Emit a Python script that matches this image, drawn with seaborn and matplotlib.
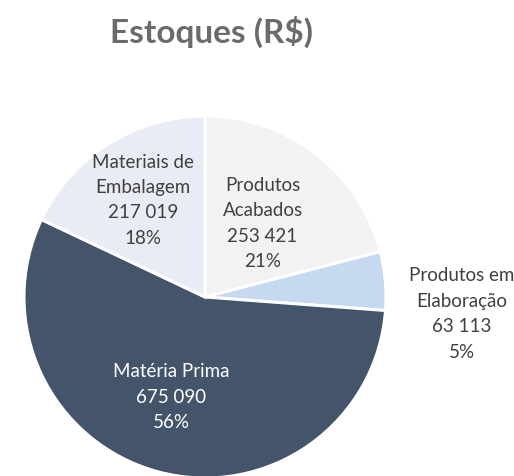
import numpy as np
import matplotlib
matplotlib.use("Agg")
import matplotlib.pyplot as plt
import seaborn as sns

# Data
categorias = ["Produtos\nAcabados", "Produtos em\nElaboração", "Matéria Prima", "Materiais de\nEmbalagem"]
valores = [253421, 63113, 675090, 217019]
cores = ["#f2f2f2", "#c6d9f0", "#44546a", "#e9ecf4"]
cores_texto = ["#404040", "#404040", "#ffffff", "#404040"]

# label placement (radius, angle offset in degrees) relative to each wedge
label_r = [0.52, 1.42, 0.58, 0.64]
label_dtheta = [0, -8.7, -4, 0]

sns.set_theme(style="white")
plt.rcParams['font.family'] = ['Lato', 'DejaVu Sans']

fig = plt.figure(figsize=(5.14, 4.77), dpi=100)
W, H = 514, 477
cx, cy, r = 205, 298, 181
ax = fig.add_axes([(cx - r) / W, (H - cy - r) / H, 2 * r / W, 2 * r / H])

wedges, _ = ax.pie(valores, colors=cores, startangle=90, counterclock=False,
                   wedgeprops=dict(edgecolor="white", linewidth=2.2))
ax.set_xlim(-1, 1)
ax.set_ylim(-1, 1)
ax.set_aspect("equal")
ax.axis("off")

total = sum(valores)
for w, cat, v, c, lr, dt in zip(wedges, categorias, valores, cores_texto, label_r, label_dtheta):
    ang = np.deg2rad((w.theta1 + w.theta2) / 2 + dt)
    pct = round(v / total * 100)
    txt = f"{cat}\n{v:,}".replace(",", " ") + f"\n{pct}%"
    ax.text(lr * np.cos(ang), lr * np.sin(ang), txt, ha="center", va="center",
            color=c, fontsize=13.5, linespacing=1.6, clip_on=False)

fig.text(212 / W, 1 - 32 / H, "Estoques (R$)", ha="center", va="center",
         fontsize=24, fontweight="bold", color="#6b6b6b")

fig.savefig("out.png", dpi=100, facecolor="white")
